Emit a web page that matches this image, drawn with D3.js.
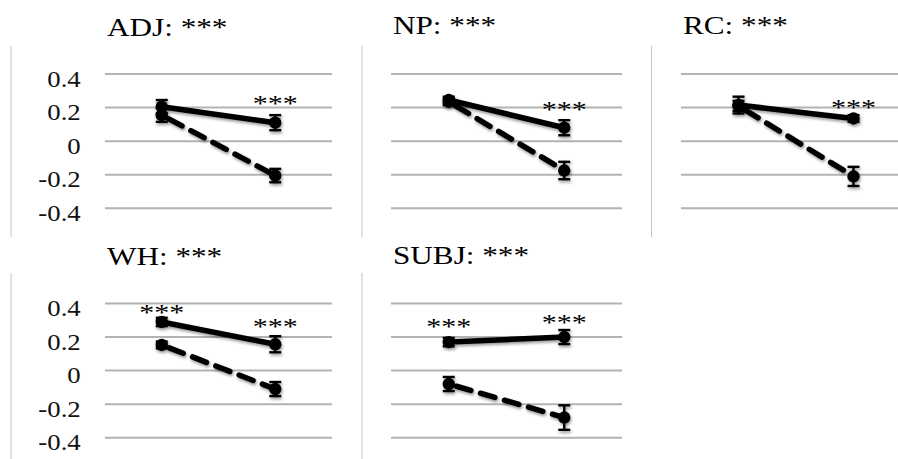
<!DOCTYPE html>
<html>
<head>
<meta charset="utf-8">
<script src="https://cdn.jsdelivr.net/npm/d3@7"></script>
<style>
  html, body { margin: 0; padding: 0; background: #fff; }
  svg { display: block; }
</style>
</head>
<body>
<svg id="chart" width="898" height="459"></svg>
<script>
// ---------------- DATA ----------------
const panels      = ["ADJ", "NP", "RC", "WH", "SUBJ"];
const panelStars  = ["***", "***", "***", "***", "***"];
const conditions  = ["c1", "c2"];
const yTicks      = [0.4, 0.2, 0, -0.2, -0.4];
const yTickLabels = ["0.4", "0.2", "0", "-0.2", "-0.4"];

const solidValues  = [[0.205, 0.11], [0.245, 0.08], [0.215, 0.135], [0.29, 0.157], [0.17, 0.20]];
const solidErrors  = [[0.04, 0.045], [0.02, 0.045], [0.05, 0.02],   [0.025, 0.048], [0.025, 0.042]];
const dashedValues = [[0.155, -0.205], [0.235, -0.175], [0.21, -0.21], [0.153, -0.11], [-0.08, -0.28]];
const dashedErrors = [[0.04, 0.04],   [0.02, 0.052],   [0.03, 0.057], [0.02, 0.042],  [0.042, 0.073]];
const pointStars   = [["", "***"], ["", "***"], ["", "***"], ["***", "***"], ["***", "***"]];

// ---------------- LAYOUT ----------------
const rows = [{ top: 74, bottom: 208.3 }, { top: 303.5, bottom: 437.7 }];
const layout = [
  { row: 0, x0: 105, x1: 332, axis: true },
  { row: 0, x0: 391, x1: 622, axis: false },
  { row: 0, x0: 681, x1: 911, axis: false },
  { row: 1, x0: 105, x1: 332, axis: true },
  { row: 1, x0: 391, x1: 622, axis: false }
];
const titleBaseline = [35.5, 33.5, 33.5, 265, 264];
const starLift = [[0, 18], [0, 16.5], [0, 10], [8.5, 16], [14, 13.5]];
const borders = [
  { x: 11, y1: 46, y2: 237 }, { x: 362, y1: 46, y2: 237 }, { x: 651.5, y1: 46, y2: 237 },
  { x: 11, y1: 273, y2: 459 }, { x: 362, y1: 273, y2: 459 }
];
const SX = 1.2;
const FONT = "Liberation Serif, Times New Roman, serif";

const svg = d3.select("#chart");
const defs = svg.append("defs");
const f = defs.append("filter").attr("id", "shadow")
  .attr("x", "-20%").attr("y", "-20%").attr("width", "140%").attr("height", "140%");
f.append("feDropShadow").attr("dx", 1).attr("dy", 2).attr("stdDeviation", 1.4)
  .attr("flood-color", "#000").attr("flood-opacity", 0.4);

// borders
svg.selectAll("line.border").data(borders).enter().append("line")
  .attr("class", "border")
  .attr("x1", d => d.x).attr("x2", d => d.x)
  .attr("y1", d => d.y1).attr("y2", d => d.y2)
  .attr("stroke", "#c4c4c4").attr("stroke-width", 1);

panels.forEach((name, i) => {
  const L = layout[i];
  const R = rows[L.row];
  const g = svg.append("g");

  const x = d3.scalePoint().domain(conditions).range([L.x0, L.x1]).padding(0.5);
  const y = d3.scaleLinear().domain([-0.4, 0.4]).range([R.bottom, R.top]);

  // gridlines
  const gridRight = Math.min(L.x1, 898);
  g.selectAll("line.grid").data(yTicks).enter().append("line")
    .attr("x1", L.x0).attr("x2", gridRight)
    .attr("y1", d => y(d)).attr("y2", d => y(d))
    .attr("stroke", "#b3b3b3").attr("stroke-width", 2);

  // y tick labels
  if (L.axis) {
    g.selectAll("text.tick").data(yTicks).enter().append("text")
      .attr("transform", d => `translate(80.7,${y(d) + 12.7}) scale(${SX},1)`)
      .attr("text-anchor", "end")
      .style("font-family", FONT).attr("font-size", 22.3).attr("fill", "#111")
      .text((d, k) => yTickLabels[k]);
  }

  // title
  g.append("text")
    .attr("transform", `translate(${L.x0 + 2},${titleBaseline[i]}) scale(${SX},1)`)
    .style("font-family", FONT).attr("font-size", 26).attr("fill", "#000")
    .text(name + ": " + panelStars[i]);

  const series = [
    { vals: dashedValues[i], errs: dashedErrors[i], dash: "15,10" },
    { vals: solidValues[i], errs: solidErrors[i], dash: null }
  ];

  series.forEach(s => {
    const pts = conditions.map((c, k) => ({ c, v: s.vals[k], e: s.errs[k] }));
    const sg = g.append("g").attr("filter", "url(#shadow)");
    const line = d3.line().x(d => x(d.c)).y(d => y(d.v));
    const path = sg.append("path").datum(pts)
      .attr("d", line).attr("fill", "none")
      .attr("stroke", "#000").attr("stroke-width", 5.5)
      .attr("stroke-linecap", "round");
    if (s.dash) path.attr("stroke-dasharray", s.dash).attr("stroke-dashoffset", -8);

    // error bars
    const eb = sg.selectAll("g.eb").data(pts).enter().append("g");
    eb.append("line")
      .attr("x1", d => x(d.c)).attr("x2", d => x(d.c))
      .attr("y1", d => y(d.v + d.e)).attr("y2", d => y(d.v - d.e))
      .attr("stroke", "#000").attr("stroke-width", 2.4);
    [1, -1].forEach(sgn => {
      eb.append("line")
        .attr("x1", d => x(d.c) - 6).attr("x2", d => x(d.c) + 6)
        .attr("y1", d => y(d.v + sgn * d.e)).attr("y2", d => y(d.v + sgn * d.e))
        .attr("stroke", "#000").attr("stroke-width", 2.4);
    });
    // markers
    sg.selectAll("circle").data(pts).enter().append("circle")
      .attr("cx", d => x(d.c)).attr("cy", d => y(d.v)).attr("r", 6.2)
      .attr("fill", "#000");
  });

  // significance stars above solid points
  conditions.forEach((c, k) => {
    const t = pointStars[i][k];
    if (!t) return;
    const py = y(solidValues[i][k]);
    g.append("text")
      .attr("transform", `translate(${x(c)},${py - starLift[i][k] + 6.2}) scale(1.25,1)`)
      .attr("text-anchor", "middle")
      .style("font-family", FONT).attr("font-size", 24).attr("fill", "#000")
      .text(t);
  });
});
</script>
</body>
</html>
